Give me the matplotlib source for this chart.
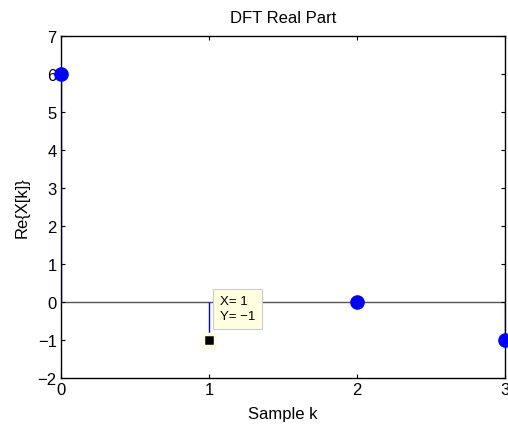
import numpy as np
import matplotlib.pyplot as plt

plt.rcParams['font.family'] = ['Liberation Sans', 'DejaVu Sans']

k = [0, 1, 2, 3]
re_x = [6, -1, 0, -1]
x_ticks = [0, 1, 2, 3]
y_ticks = [-2, -1, 0, 1, 2, 3, 4, 5, 6, 7]
tip_k, tip_val = 1, -1

fig = plt.figure(figsize=(5.08, 4.27), dpi=100)
ax = fig.add_axes([0.120, 0.1124, 0.874, 0.801])

ax.axhline(0, color='#555555', lw=1, zorder=1)
ax.vlines(k, 0, re_x, color='blue', lw=1, zorder=2)
ax.plot(k, re_x, 'o', color='blue', ms=9.5, clip_on=False, zorder=3)

# data tip
ax.plot(tip_k, tip_val, 's', color='black', ms=8, mec='#ffffe0', mew=2.5, zorder=4)
ax.annotate('X= 1\nY= \u22121', xy=(tip_k, tip_val), xytext=(8, 13),
            textcoords='offset points', fontsize=9.5, va='bottom', ha='left',
            linespacing=1.3,
            bbox=dict(boxstyle='square,pad=0.5', fc='#ffffe0', ec='#cccccc', lw=0.8),
            zorder=5)

ax.set_xlim(0, 3)
ax.set_ylim(-2, 7)
ax.set_xticks(x_ticks)
ax.set_yticks(y_ticks)
ax.set_yticklabels([str(v).replace('-', '\u2212') for v in y_ticks])
ax.tick_params(direction='in', top=True, right=True, length=3, labelsize=12, pad=3)
for s in ax.spines.values():
    s.set_linewidth(1)

ax.set_title('DFT Real Part', fontsize=12, pad=10)
ax.set_xlabel('Sample k', fontsize=12, labelpad=6)
ax.set_ylabel('Re{X[k]}', fontsize=12, labelpad=6)

fig.savefig('out.png', dpi=100)
